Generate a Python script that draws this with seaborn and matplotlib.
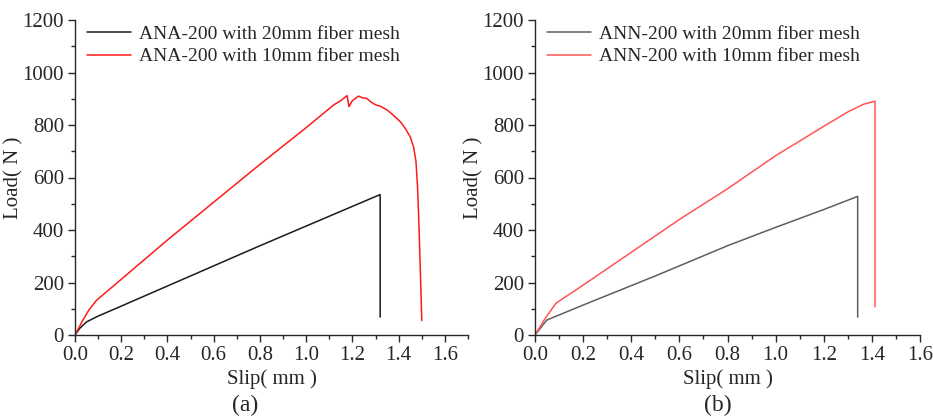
import matplotlib
matplotlib.use("Agg")
import matplotlib.pyplot as plt
import seaborn as sns
import pandas as pd
from matplotlib.ticker import MultipleLocator

# ---- data ----
a_black_x = [0, 0.02, 0.05, 0.1, 0.2, 0.5, 0.8, 1.0, 1.32, 1.32]
a_black_y = [0, 25, 50, 72, 110, 225, 340, 415, 535, 68]
a_red_x = [0, 0.03, 0.06, 0.094, 0.2, 0.4, 0.8, 1.0, 1.12, 1.15, 1.177, 1.185, 1.2, 1.226,
           1.245, 1.26, 1.28, 1.3, 1.32, 1.35, 1.37, 1.39, 1.41, 1.43, 1.45, 1.465, 1.475,
           1.482, 1.487, 1.492, 1.497, 1.50]
a_red_y = [0, 50, 95, 133, 212, 362, 650, 790, 877, 893, 912, 870, 893, 910,
           903, 902, 888, 877, 872, 857, 843, 827, 810, 785, 755, 715, 660,
           560, 440, 300, 150, 55]
b_grey_x = [0, 0.049, 0.2, 0.5, 0.8, 1.0, 1.2, 1.341, 1.341]
b_grey_y = [0, 57, 114, 225, 340, 410, 478, 528, 68]
b_red_x = [0, 0.04, 0.087, 0.2, 0.4, 0.6, 0.8, 1.0, 1.2, 1.302, 1.365, 1.413, 1.413]
b_red_y = [0, 60, 121, 190, 315, 440, 557, 683, 795, 851, 879, 891, 108]

labels_a = ["ANA-200 with 20mm fiber mesh", "ANA-200 with 10mm fiber mesh"]
labels_b = ["ANN-200 with 20mm fiber mesh", "ANN-200 with 10mm fiber mesh"]
captions = ["(a)", "(b)"]

sns.set_style("ticks")
plt.rcParams['font.family'] = ['Liberation Serif', 'DejaVu Serif']

fig = plt.figure(figsize=(9.33, 4.18), dpi=100)
ax1 = fig.add_axes([75/933, 1-335/418, (468-75)/933, (335-20)/418])
ax2 = fig.add_axes([535/933, 1-335/418, (920-535)/933, (335-20)/418])

def draw(ax, xs1, ys1, xs2, ys2, c1, c2, labels, xmax):
    d1 = pd.DataFrame({"x": xs1, "y": ys1})
    d2 = pd.DataFrame({"x": xs2, "y": ys2})
    sns.lineplot(data=d1, x="x", y="y", sort=False, estimator=None, color=c1, lw=1.1, ax=ax, label=labels[0])
    sns.lineplot(data=d2, x="x", y="y", sort=False, estimator=None, color=c2, lw=1.1, ax=ax, label=labels[1])
    ax.set_xlim(0, xmax)
    ax.set_ylim(0, 1200)
    ax.xaxis.set_major_locator(MultipleLocator(0.2))
    ax.xaxis.set_minor_locator(MultipleLocator(0.1))
    ax.yaxis.set_major_locator(MultipleLocator(200))
    ax.yaxis.set_minor_locator(MultipleLocator(100))
    ax.xaxis.set_major_formatter(matplotlib.ticker.FormatStrFormatter('%.1f'))
    ax.tick_params(axis='both', which='major', direction='out', length=5, width=1, labelsize=15, pad=3)
    ax.tick_params(axis='both', which='minor', direction='out', length=3, width=1)
    ax.set_xlabel("Slip( mm )", fontsize=15, labelpad=3)
    ax.set_ylabel("Load( N )", fontsize=15, labelpad=-1)
    for s in ['left', 'bottom']:
        ax.spines[s].set_linewidth(1.0)
    sns.despine(ax=ax)
    ax.legend(loc='upper left', frameon=False, fontsize=14, handlelength=2.3,
              handletextpad=0.4, labelspacing=0.25, borderaxespad=0.2,
              bbox_to_anchor=(0.0, 1.02))

draw(ax1, a_black_x, a_black_y, a_red_x, a_red_y, "#1a1a1a", "#ff1a1a", labels_a, 1.7)
draw(ax2, b_grey_x, b_grey_y, b_red_x, b_red_y, "#5e5e5e", "#ff5555", labels_b, 1.6)

fig.text(245/933, 1-405/418, captions[0], ha='center', va='center', fontsize=17)
fig.text(718/933, 1-405/418, captions[1], ha='center', va='center', fontsize=17)

fig.savefig("out.png", dpi=100)
